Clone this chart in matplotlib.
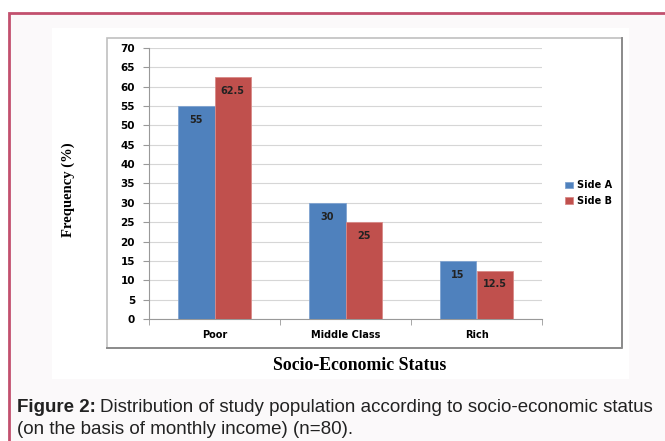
import numpy as np
import matplotlib.pyplot as plt
from matplotlib.patches import Rectangle
from matplotlib.lines import Line2D

# Socio-economic status of the study population, % per side
categories = ["Poor", "Middle Class", "Rich"]
side_a = [55, 30, 15]
side_b = [62.5, 25, 12.5]
series_names = ["Side A", "Side B"]
y_ticks = list(range(0, 75, 5))

W, H = 665, 441
BLUE = "#4f81bd"
RED = "#c0504d"


def box(x0, y0, x1, y1):
    # pixel box (top-left origin) -> figure fraction rect
    return (x0 / W, 1 - y1 / H, (x1 - x0) / W, (y1 - y0) / H)


def panel(x0, y0, x1, y1, **kw):
    r = box(x0, y0, x1, y1)
    fig.patches.append(Rectangle(r[:2], r[2], r[3], transform=fig.transFigure,
                                 zorder=-5, **kw))


fig = plt.figure(figsize=(W / 100, H / 100), dpi=100)
fig.patch.set_facecolor("white")

# panel background, crimson frame, white chart area, inner chart border
panel(9, 13, 700, 480, facecolor="#fbf9fa", edgecolor="#c2506e", lw=2)
panel(52, 28, 629, 379, facecolor="white", edgecolor="none")
panel(107, 38, 622, 348, facecolor="white", edgecolor="#c0c0c0", lw=1.2)
# darker shadow on the right and bottom edges of the chart border
fig.lines.append(Line2D([107 / W, 622 / W, 622 / W],
                        [1 - 348 / H, 1 - 348 / H, 1 - 38 / H],
                        transform=fig.transFigure, color="#8c8c8c", lw=1.4,
                        zorder=-4))

ax = fig.add_axes(box(149, 48, 542, 319))
ax.set_facecolor("none")
ax.set_zorder(2)

x = np.arange(len(categories))
w = 0.28
bars_a = ax.bar(x - w / 2, side_a, w, color=BLUE, edgecolor="#7fa3d1", lw=0.6,
                label=series_names[0], zorder=3)
bars_b = ax.bar(x + w / 2, side_b, w, color=RED, edgecolor="#d98a88", lw=0.6,
                label=series_names[1], zorder=3)

for bars, vals in ((bars_a, side_a), (bars_b, side_b)):
    for b, v in zip(bars, vals):
        ax.annotate(f"{v:g}", (b.get_x() + b.get_width() / 2, v),
                    xytext=(0, -10), textcoords="offset points",
                    ha="center", va="center", fontsize=7, fontweight="bold",
                    color="#222222", zorder=4)

ax.set_xlim(-0.5, 2.5)
ax.set_ylim(0, 70)
ax.set_yticks(y_ticks)
ax.set_yticklabels([str(t) for t in y_ticks], fontsize=7.5, fontweight="bold")
ax.set_xticks(x)
ax.set_xticklabels(categories, fontsize=7, fontweight="bold")
ax.set_xticks([-0.5, 0.5, 1.5, 2.5], minor=True)
ax.tick_params(axis="x", which="major", length=0, pad=8)
ax.tick_params(axis="x", which="minor", length=4, color="#999999")
ax.tick_params(axis="y", length=4, color="#999999", pad=6)

ax.grid(axis="y", color="#d6d6d6", lw=0.8, zorder=0)
ax.set_axisbelow(True)
for s in ("top", "right"):
    ax.spines[s].set_visible(False)
for s in ("left", "bottom"):
    ax.spines[s].set_color("#999999")
    ax.spines[s].set_linewidth(0.8)

leg = fig.legend(handles=[bars_a, bars_b], labels=series_names,
                 loc="center left", bbox_to_anchor=(560 / W, 1 - 193 / H),
                 frameon=False, prop={"size": 7, "weight": "bold"},
                 handlelength=0.8, handleheight=0.6, handletextpad=0.4,
                 labelspacing=0.6, borderpad=0)
leg.set_zorder(3)

fig.text(68 / W, 1 - 190 / H, "Frequency (%)", rotation=90, ha="center",
         va="center", family="Liberation Serif", fontweight="bold", fontsize=10.5)
fig.text(360 / W, 1 - 366 / H, "Socio-Economic Status", ha="center", va="center",
         family="Liberation Serif", fontweight="bold", fontsize=12.8)

# caption under the chart
cap_font = "Liberation Sans"
renderer = fig.canvas.get_renderer()
t1 = fig.text(17 / W, 1 - 408 / H, "Figure 2:", ha="left", va="center",
              family=cap_font, fontweight="bold", fontsize=13.5, color="#222222")
bb = t1.get_window_extent(renderer)
fig.text((bb.x1 + 4) / W, 1 - 408 / H,
         "Distribution of study population according to socio-economic status",
         ha="left", va="center", family=cap_font, fontsize=13.5, color="#222222")
fig.text(17 / W, 1 - 429 / H, "(on the basis of monthly income) (n=80).",
         ha="left", va="center", family=cap_font, fontsize=13.5, color="#222222")

fig.savefig("out.png", dpi=100)
